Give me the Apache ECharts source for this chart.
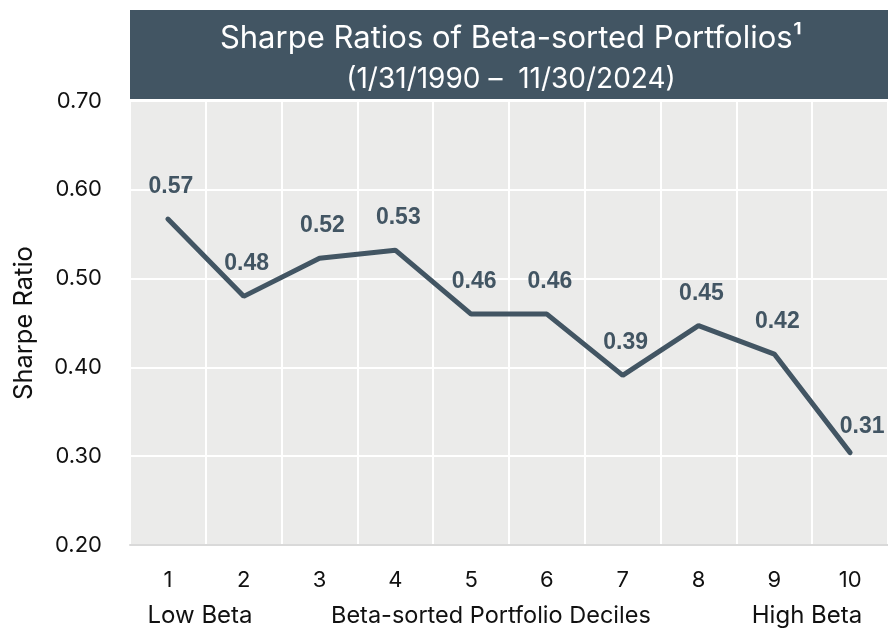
<!DOCTYPE html>
<html>
<head>
<meta charset="utf-8">
<title>Sharpe Ratios of Beta-sorted Portfolios</title>
<script src="https://cdn.jsdelivr.net/npm/echarts@6/dist/echarts.min.js"></script>
<style>
  html, body { margin: 0; padding: 0; background: #fff; }
  #chart { width: 888px; height: 631px; }
</style>
</head>
<body>
<div id="chart"></div>
<script>
// deciles on the x axis
const deciles = ["1", "2", "3", "4", "5", "6", "7", "8", "9", "10"];
// sharpe ratio per decile
const sharpe = [0.567, 0.48, 0.523, 0.532, 0.46, 0.46, 0.391, 0.447, 0.415, 0.304];
// value labels as printed on the chart
const sharpeLabels = ["0.57", "0.48", "0.52", "0.53", "0.46", "0.46", "0.39", "0.45", "0.42", "0.31"];
const yTicks = [0.2, 0.3, 0.4, 0.5, 0.6, 0.7];

const slate = "#425563";
const font = "Inter, 'Liberation Sans', sans-serif";

const chart = echarts.init(document.getElementById("chart"));

const seriesData = sharpe.map((v, i) => {
  const item = { value: v };
  if (i === sharpe.length - 1) {
    // last label sits to the right of the end point
    item.label = { offset: [12, 7] };
  }
  return item;
});

const option = {
  animation: false,
  backgroundColor: "#ffffff",
  grid: {
    left: 130,
    right: 0,
    top: 101,
    bottom: 86,
    show: true,
    backgroundColor: "#ebebea",
    borderWidth: 0,
  },
  graphic: [
    {
      type: "rect",
      left: 130,
      top: 10,
      shape: { width: 758, height: 89 },
      style: { fill: slate },
      silent: true,
    },
    {
      type: "text",
      x: 511,
      y: 39,
      style: {
        text: "Sharpe Ratios of Beta-sorted Portfolios\u00B9",
        fill: "#ffffff",
        font: "31px " + font,
        textAlign: "center",
        textVerticalAlign: "middle",
      },
    },
    {
      type: "text",
      x: 511,
      y: 80,
      style: {
        text: "(1/31/1990 \u2013  11/30/2024)",
        fill: "#ffffff",
        font: "28px " + font,
        textAlign: "center",
        textVerticalAlign: "middle",
      },
    },
    {
      type: "text",
      x: 200,
      y: 616,
      style: {
        text: "Low Beta",
        fill: "#111111",
        font: "24px " + font,
        textAlign: "center",
        textVerticalAlign: "middle",
      },
    },
    {
      type: "text",
      x: 331,
      y: 616,
      style: {
        text: "Beta-sorted Portfolio Deciles",
        fill: "#111111",
        font: "23.5px " + font,
        textAlign: "left",
        textVerticalAlign: "middle",
      },
    },
    {
      type: "text",
      x: 807,
      y: 616,
      style: {
        text: "High Beta",
        fill: "#111111",
        font: "24px " + font,
        textAlign: "center",
        textVerticalAlign: "middle",
      },
    },
  ],
  xAxis: {
    type: "category",
    data: deciles,
    boundaryGap: true,
    axisTick: { show: false },
    axisLine: { lineStyle: { color: "#d9d9d9", width: 2 } },
    axisLabel: {
      color: "#111111",
      fontSize: 22,
      fontFamily: font,
      margin: 24,
      interval: 0,
    },
    splitLine: {
      show: true,
      interval: 0,
      lineStyle: { color: "#ffffff", width: 2 },
    },
  },
  yAxis: {
    type: "value",
    min: yTicks[0],
    max: yTicks[yTicks.length - 1],
    interval: 0.1,
    name: "Sharpe Ratio",
    nameLocation: "middle",
    nameGap: 93,
    nameTextStyle: { color: "#111111", fontSize: 25.5, fontFamily: font },
    axisLine: { show: false },
    axisTick: { show: false },
    axisLabel: {
      color: "#111111",
      fontSize: 22,
      fontFamily: font,
      margin: 28,
      formatter: (v) => v.toFixed(2),
    },
    splitLine: { lineStyle: { color: "#ffffff", width: 2 } },
  },
  series: [
    {
      name: "Sharpe Ratio",
      type: "line",
      data: seriesData,
      symbol: "circle",
      symbolSize: 2,
      showSymbol: true,
      itemStyle: { color: slate },
      lineStyle: { color: slate, width: 5, cap: "round" },
      label: {
        show: true,
        position: "top",
        distance: 20,
        offset: [3, 0],
        color: slate,
        fontSize: 23,
        fontWeight: "bold",
        fontFamily: "'Liberation Sans', Arial, sans-serif",
        formatter: (p) => sharpeLabels[p.dataIndex],
      },
      z: 3,
    },
  ],
};

chart.setOption(option);
</script>
</body>
</html>
